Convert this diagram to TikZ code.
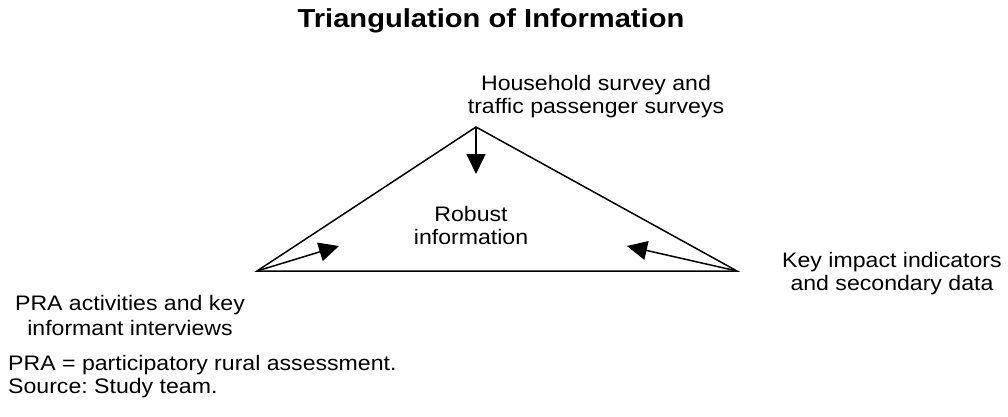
\documentclass[tikz,border=0pt]{standalone}
\usepackage{fontspec}
\usepackage{tikz}
\usetikzlibrary{arrows.meta}
\newfontfamily\diagfont[FakeStretch=1.1]{Liberation Sans}
\newfontfamily\headfont[FakeStretch=1.12]{Liberation Sans Bold}
\frenchspacing

\begin{document}
\begin{tikzpicture}[x=1pt,y=1pt,
                side/.style={line width=1.5pt,line join=miter},
                in arrow/.style={-{Triangle[length=20pt,width=19pt]},line width=1.5pt},
                label node/.style={inner sep=0pt,align=center,font=\diagfont\fontsize{21}{23}\selectfont}]

  \useasboundingbox (0,0) rectangle (1008,416);

  \node[inner sep=0pt,anchor=base,font=\headfont\fontsize{26}{28}\selectfont] (title) at (491,388) {Triangulation of Information};

  % corners of the triangle
  \coordinate (top) at (476,289);
  \coordinate (left) at (257,145);
  \coordinate (right) at (737,145);

  \coordinate (top in) at (476,242);
  \coordinate (left in) at (339,170);
  \coordinate (right in) at (627,170);

  \draw[side] (left) -- (top) -- (right) -- cycle;

  \node[label node] (survey) at (596,319) {Household survey and\\traffic passenger surveys};
  \node[label node] (robust) at (471,191) {Robust\\information};
  \node[label node] (impact) at (892,142.5) {Key impact indicators\\and secondary data};
  \node[label node,font=\diagfont\fontsize{21}{25}\selectfont] (pra) at (130,101) {PRA activities and key\\informant interviews};
  \node[label node,align=left,anchor=west] (note) at (8,39.5) {PRA = participatory rural assessment.\\Source: Study team.};

  \path
    (top) edge [in arrow] (top in)
    (left) edge [in arrow] (left in)
    (right) edge [in arrow] (right in);
\end{tikzpicture}
\end{document}
